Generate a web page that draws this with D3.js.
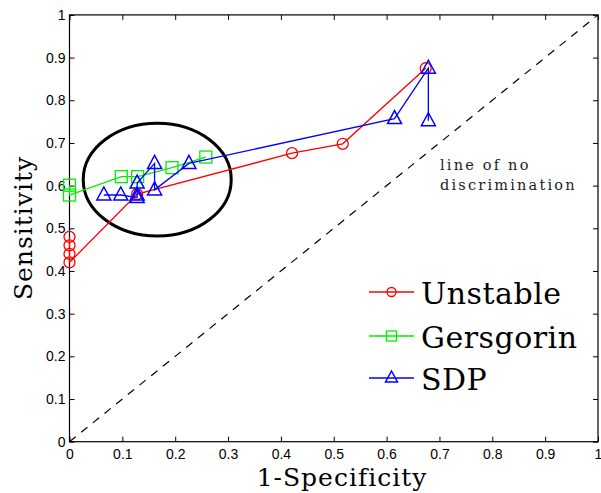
<!DOCTYPE html>
<html><head><meta charset="utf-8">
<script src="https://cdn.jsdelivr.net/npm/d3@7"></script>
<style>body{margin:0;background:#fff}svg{display:block}</style>
</head><body>
<svg id="c" width="601" height="493"></svg>
<script>
const ticks = [0,0.1,0.2,0.3,0.4,0.5,0.6,0.7,0.8,0.9,1];
const unstableX = [0,0,0,0,0.128,0.421,0.517,0.674];
const unstableY = [0.48,0.46,0.44,0.42,0.580,0.676,0.698,0.875];
const gersX = [0,0,0.098,0.129,0.194,0.258];
const gersY = [0.601,0.578,0.621,0.621,0.642,0.667];
const sdpX = [0.065,0.097,0.128,0.128,0.128,0.161,0.161,0.226,0.615,0.679,0.679];
const sdpY = [0.578,0.578,0.572,0.578,0.606,0.652,0.590,0.652,0.757,0.875,0.752];
const seriesNames = ["Unstable","Gersgorin","SDP"];
const seriesColors = ["#ff0000","#00ee00","#0000ff"];

const svg = d3.select("#c");
const x = d3.scaleLinear().domain([0,1]).range([69.5,598]);
const y = d3.scaleLinear().domain([0,1]).range([441.7,14.9]);

const g = svg.append("g");
const axB = d3.axisBottom(x).tickValues(ticks).tickSize(-5).tickPadding(7).tickFormat(d3.format("~g"));
const axT = d3.axisTop(x).tickValues(ticks).tickSize(-5).tickFormat("");
const axL = d3.axisLeft(y).tickValues(ticks).tickSize(-5).tickPadding(4).tickFormat(d3.format("~g"));
const axR = d3.axisRight(y).tickValues(ticks).tickSize(-5).tickFormat("");
function style(sel){sel.select(".domain").remove();sel.selectAll("line").attr("stroke","#000");
 sel.selectAll("text").attr("font-family","Liberation Sans, Arial, sans-serif").attr("font-size",14).attr("fill","#000");}
g.append("g").attr("transform",`translate(0,${y(0)})`).call(axB).call(style);
g.append("g").attr("transform",`translate(0,${y(1)})`).call(axT).call(style);
g.append("g").attr("transform",`translate(${x(0)},0)`).call(axL).call(style);
g.append("g").attr("transform",`translate(${x(1)},0)`).call(axR).call(style);
svg.append("rect").attr("x",x(0)).attr("y",y(1)).attr("width",x(1)-x(0)).attr("height",y(0)-y(1))
  .attr("fill","none").attr("stroke","#000").attr("stroke-width",1.2);

svg.append("line").attr("x1",x(0)).attr("y1",y(0)).attr("x2",x(1)).attr("y2",y(1))
  .attr("stroke","#000").attr("stroke-width",1.2).attr("stroke-dasharray","8,7");

svg.append("ellipse").attr("cx",x(0.166)).attr("cy",y(0.614)).attr("rx",x(0.14)-x(0)).attr("ry",y(0)-y(0.132))
  .attr("fill","none").attr("stroke","#000").attr("stroke-width",3);

const line = d3.line();
function marker(sel, type, color){
  if(type===0) sel.append("circle").attr("r",5.5).attr("fill","none").attr("stroke",color).attr("stroke-width",1.3);
  else if(type===1) sel.append("rect").attr("x",-6).attr("y",-6).attr("width",12).attr("height",12).attr("fill","none").attr("stroke",color).attr("stroke-width",1.3);
  else sel.append("path").attr("d","M0,-8L7,5L-7,5Z").attr("fill","none").attr("stroke",color).attr("stroke-width",1.5);
}
const data = [[unstableX,unstableY],[gersX,gersY],[sdpX,sdpY]];
data.forEach(([xs,ys],i)=>{
  const pts = xs.map((v,j)=>[x(v),y(ys[j])]);
  svg.append("path").attr("d",line(pts)).attr("fill","none").attr("stroke",seriesColors[i]).attr("stroke-width",1.3);
  pts.forEach(p=>{ const m=svg.append("g").attr("transform",`translate(${p[0]},${p[1]})`); marker(m,i,seriesColors[i]); });
});

const serif = "DejaVu Serif, Liberation Serif, serif";
svg.append("text").attr("x",440).attr("y",170).attr("font-family",serif).attr("font-size",14.5).attr("letter-spacing",2.2).attr("fill","#222").text("line of no");
svg.append("text").attr("x",440).attr("y",190).attr("font-family",serif).attr("font-size",14.5).attr("letter-spacing",2.2).attr("fill","#222").text("discrimination");

const legY = [292,336,378];
seriesNames.forEach((n,i)=>{
  svg.append("line").attr("x1",369).attr("x2",414).attr("y1",legY[i]).attr("y2",legY[i]).attr("stroke",seriesColors[i]).attr("stroke-width",1.3);
  const m=svg.append("g").attr("transform",`translate(391.5,${legY[i]})`);
  if(i===0) m.append("circle").attr("r",4.5).attr("fill","none").attr("stroke",seriesColors[i]).attr("stroke-width",1.3);
  else if(i===1) m.append("rect").attr("x",-5).attr("y",-5).attr("width",10).attr("height",10).attr("fill","none").attr("stroke",seriesColors[i]).attr("stroke-width",1.3);
  else m.append("path").attr("d","M0,-7L6,4L-6,4Z").attr("fill","none").attr("stroke",seriesColors[i]).attr("stroke-width",1.5);
  svg.append("text").attr("x",421).attr("y",legY[i]+12).attr("font-family",serif).attr("font-size",30).attr("letter-spacing",0.5).attr("fill","#000").text(n);
});

svg.append("text").attr("x",342).attr("y",486).attr("text-anchor","middle").attr("font-family",serif).attr("font-size",25).attr("letter-spacing",1).attr("fill","#000").text("1-Specificity");
svg.append("text").attr("transform","translate(32,228) rotate(-90)").attr("text-anchor","middle").attr("font-family",serif).attr("font-size",25).attr("letter-spacing",1).attr("fill","#000").text("Sensitivity");
</script>
</body></html>
